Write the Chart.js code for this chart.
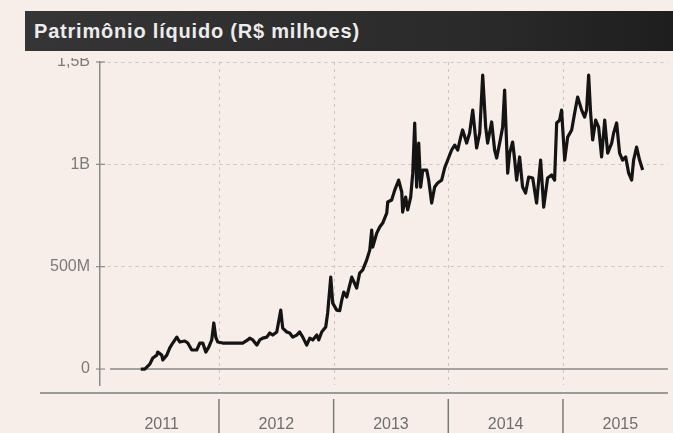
<!DOCTYPE html>
<html>
<head>
<meta charset="utf-8">
<script src="https://cdn.jsdelivr.net/npm/chart.js@4/dist/chart.umd.min.js"></script>
<style>
  html, body { margin: 0; padding: 0; background: #f7eeea; }
  #wrap { position: relative; width: 673px; height: 433px; overflow: hidden; }
  #titulo {
    position: absolute; left: 25px; top: 11px; width: 648px; height: 40px;
    background: linear-gradient(to right, #353535, #2a2a2a 70%, #1e1e1e);
    color: #ececec; font: bold 20px "Liberation Sans", Arial, sans-serif;
    letter-spacing: 0.8px; line-height: 40px; padding-left: 9px; box-sizing: border-box;
    z-index: 2;
  }
  #faixa { position: absolute; left: 0; top: 51px; width: 673px; height: 7px; background: #f7eeea; z-index: 2; }
  canvas { position: absolute; left: 0; top: 0; }
</style>
</head>
<body>
<div id="wrap">
  <div id="titulo">Patrimônio líquido (R$ milhoes)</div>
  <div id="faixa"></div>
  <canvas id="grafico" width="673" height="433"></canvas>
</div>
<script>
// datas em anos decimais, valores em R$ milhões
const anos = [
  2011.318, 2011.353, 2011.397, 2011.423, 2011.458, 2011.466, 2011.501, 2011.510, 2011.545, 2011.571,
  2011.597, 2011.632, 2011.658, 2011.702, 2011.728, 2011.763, 2011.806, 2011.833, 2011.859, 2011.885,
  2011.911, 2011.937, 2011.955, 2011.972, 2011.989,
  2012.033, 2012.094, 2012.155, 2012.207, 2012.251, 2012.268, 2012.295, 2012.330, 2012.356, 2012.382,
  2012.417, 2012.443, 2012.469, 2012.504, 2012.539, 2012.556, 2012.591, 2012.617, 2012.643, 2012.678,
  2012.704, 2012.731, 2012.765, 2012.792, 2012.818, 2012.853, 2012.870, 2012.896, 2012.931, 2012.948,
  2012.975, 2012.992,
  2013.027, 2013.053, 2013.071, 2013.088, 2013.114, 2013.158, 2013.201, 2013.227, 2013.254, 2013.288,
  2013.315, 2013.332, 2013.341, 2013.376, 2013.402, 2013.428, 2013.463, 2013.472, 2013.506, 2013.533,
  2013.567, 2013.594, 2013.602, 2013.628, 2013.646, 2013.672, 2013.690, 2013.707, 2013.724, 2013.742,
  2013.759, 2013.777, 2013.812, 2013.829, 2013.855, 2013.881, 2013.907, 2013.942, 2013.968, 2013.995,
  2014.029, 2014.056, 2014.082, 2014.108, 2014.125, 2014.160, 2014.186, 2014.213, 2014.247, 2014.274,
  2014.300, 2014.326, 2014.343, 2014.378, 2014.404, 2014.422, 2014.448, 2014.474, 2014.491, 2014.518,
  2014.535, 2014.561, 2014.579, 2014.596, 2014.622, 2014.648, 2014.674, 2014.701, 2014.736, 2014.770,
  2014.805, 2014.832, 2014.866, 2014.901, 2014.927, 2014.945, 2014.971, 2014.988,
  2015.015, 2015.041, 2015.076, 2015.102, 2015.128, 2015.163, 2015.189, 2015.206, 2015.224, 2015.241,
  2015.259, 2015.285, 2015.311, 2015.337, 2015.364, 2015.390, 2015.425, 2015.442, 2015.468, 2015.494,
  2015.520, 2015.547, 2015.573, 2015.599, 2015.616, 2015.642, 2015.668, 2015.695
];

const patrimonio = [
  0, 0, 24, 54, 68, 83, 68, 44, 68, 103,
  127, 156, 132, 137, 127, 93, 93, 127, 127, 83,
  107, 142, 225, 156, 132,
  127, 127, 127, 127, 142, 151, 142, 117, 142, 151,
  156, 176, 166, 181, 288, 200, 181, 176, 156, 166,
  181, 156, 117, 151, 142, 166, 142, 181, 205, 274,
  449, 322,
  288, 285, 337, 376, 352, 449, 396, 469, 484, 532,
  581, 679, 596, 664, 694, 713, 762, 816, 826, 874,
  923, 865, 767, 840, 777, 840, 957, 1202, 889, 1104,
  889, 972, 972, 923, 811, 889, 909, 923, 982, 1021,
  1070, 1094, 1070, 1133, 1168, 1104, 1153, 1265, 1080, 1153,
  1436, 1182, 1104, 1207, 1070, 1031, 1104, 1182, 1363, 957,
  1055, 1109, 1021, 923, 1036, 889, 860, 938, 933, 811,
  1021, 791, 933, 948, 923, 1202, 1216, 1265,
  1021, 1133, 1168, 1251, 1329, 1265, 1231, 1265, 1436, 1251,
  1119, 1216, 1182, 1036, 1216, 1055, 1104, 1153, 1202, 1055,
  1021, 1036, 957, 923, 1021, 1084, 1021, 972
];

const yTicks = [0, 500, 1000, 1500];
const yTickLabels = ['0', '500M', '1B', '1,5B'];
const rotulosAnos = ['2011', '2012', '2013', '2014', '2015'];
const inicioAnos = [2011, 2012, 2013, 2014, 2015, 2016];

const FONTE = '"Liberation Sans", Arial, sans-serif';

// linhas extras: zero, grade vertical tracejada, separadores dos anos
const extras = {
  id: 'extras',
  beforeDatasetsDraw(chart) {
    const { ctx, chartArea: a, scales: { x, y } } = chart;
    ctx.save();
    ctx.setLineDash([3, 4]);
    ctx.strokeStyle = '#cbc3c0';
    ctx.lineWidth = 1;
    inicioAnos.slice(1, 5).forEach(ano => {
      const px = Math.round(x.getPixelForValue(ano)) + 0.5;
      ctx.beginPath(); ctx.moveTo(px, a.top); ctx.lineTo(px, a.bottom); ctx.stroke();
    });
    ctx.setLineDash([]);
    const y0 = y.getPixelForValue(0);
    ctx.strokeStyle = '#8a8a8a';
    ctx.lineWidth = 1.5;
    ctx.beginPath(); ctx.moveTo(a.left + 10, y0); ctx.lineTo(a.right, y0); ctx.stroke();
    // cruz dos ticks do eixo y
    ctx.lineWidth = 1.2;
    yTicks.forEach(v => {
      const py = y.getPixelForValue(v);
      ctx.beginPath(); ctx.moveTo(a.left - 4, py); ctx.lineTo(a.left + 5, py); ctx.stroke();
    });
    ctx.restore();
  },
  afterDraw(chart) {
    const { ctx, chartArea: a, scales: { x } } = chart;
    ctx.save();
    ctx.strokeStyle = '#9a9a9a';
    ctx.lineWidth = 2;
    ctx.beginPath(); ctx.moveTo(40, a.bottom + 8); ctx.lineTo(a.right, a.bottom + 8); ctx.stroke();
    ctx.strokeStyle = '#7a7a7a';
    ctx.lineWidth = 1.5;
    inicioAnos.slice(1, 5).forEach(ano => {
      const px = x.getPixelForValue(ano);
      ctx.beginPath(); ctx.moveTo(px, a.bottom + 14); ctx.lineTo(px, chart.height); ctx.stroke();
    });
    ctx.restore();
  }
};

new Chart(document.getElementById('grafico'), {
  type: 'line',
  data: {
    datasets: [{
      data: anos.map((a, i) => ({ x: a, y: patrimonio[i] })),
      borderColor: '#141414',
      borderWidth: 3.2,
      pointRadius: 0,
      tension: 0,
      borderJoinStyle: 'round',
    }],
  },
  options: {
    responsive: false,
    animation: false,
    layout: { padding: { top: 62, right: 5, left: 0, bottom: 0 } },
    plugins: { legend: { display: false }, tooltip: { enabled: false } },
    scales: {
      x: {
        type: 'linear',
        min: 2010.9625,
        max: 2015.916,
        afterBuildTicks: s => { s.ticks = inicioAnos.slice(0, 5).map(v => ({ value: v + 0.5 })); },
        afterFit: s => { s.height = 48; },
        grid: { display: false, drawTicks: false },
        border: { display: false },
        ticks: {
          padding: 30,
          color: '#6e6e6e',
          font: { family: FONTE, size: 16 },
          callback: v => rotulosAnos[Math.floor(v) - 2011],
        },
      },
      y: {
        min: -78,
        max: 1500,
        afterBuildTicks: s => { s.ticks = yTicks.map(v => ({ value: v })); },
        afterFit: s => { s.width = 100; },
        border: { display: true, color: '#8a8a8a', width: 1.5, dash: [3, 4] },
        grid: {
          color: c => c.tick && c.tick.value === 0 ? 'rgba(0,0,0,0)' : '#cbc3c0',
          lineWidth: 1,
          drawTicks: false,
        },
        ticks: {
          padding: 10,
          color: '#7a7a7a',
          font: { family: FONTE, size: 16 },
          callback: v => yTickLabels[yTicks.indexOf(v)],
        },
      },
    },
  },
  plugins: [extras],
});
</script>
</body>
</html>
